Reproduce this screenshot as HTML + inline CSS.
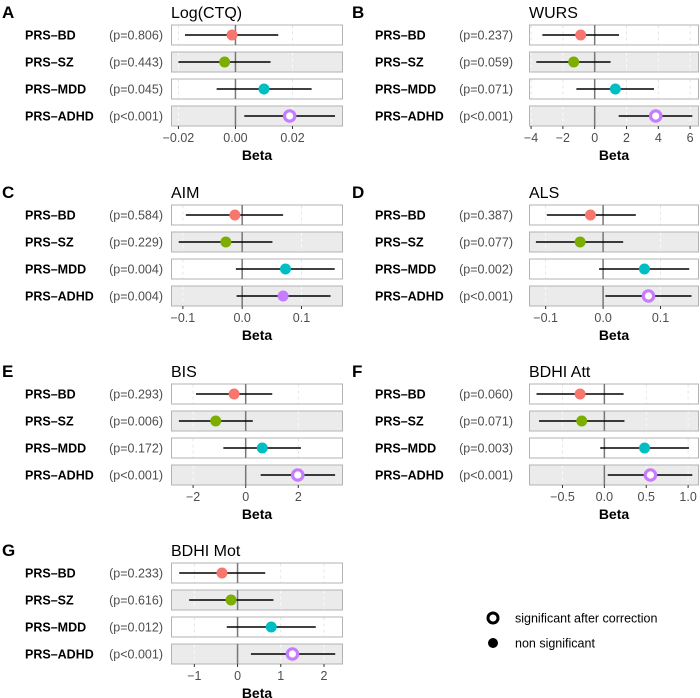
<!DOCTYPE html>
<html><head><meta charset="utf-8"><style>
body{margin:0;background:#fff}
svg{display:block;font-family:"Liberation Sans",Arial,sans-serif}
</style></head><body>
<svg id="fig" width="700" height="698" viewBox="0 0 700 698">
<g>
<circle cx="493" cy="618" r="5" fill="#fff" stroke="#000" stroke-width="3"/>
<text x="515" y="622.5" font-size="12.5" fill="#000">significant after correction</text>
<circle cx="493" cy="643" r="5" fill="#000"/>
<text x="515" y="647.5" font-size="12.5" fill="#000">non significant</text>
</g>
</svg>
<script>
const categories = ["PRS\u2013BD","PRS\u2013SZ","PRS\u2013MDD","PRS\u2013ADHD"];
const colors = ["#F8766D","#7CAE00","#00BFC4","#C77CFF"];
const panelLetters = ["A","B","C","D","E","F","G"];
const panelTitles = ["Log(CTQ)","WURS","AIM","ALS","BIS","BDHI Att","BDHI Mot"];
const pLabels = [
 ["(p=0.806)","(p=0.443)","(p=0.045)","(p<0.001)"],
 ["(p=0.237)","(p=0.059)","(p=0.071)","(p<0.001)"],
 ["(p=0.584)","(p=0.229)","(p=0.004)","(p=0.004)"],
 ["(p=0.387)","(p=0.077)","(p=0.002)","(p<0.001)"],
 ["(p=0.293)","(p=0.006)","(p=0.172)","(p<0.001)"],
 ["(p=0.060)","(p=0.071)","(p=0.003)","(p<0.001)"],
 ["(p=0.233)","(p=0.616)","(p=0.012)","(p<0.001)"]];
const betas = [
 [-0.0012,-0.0038,0.010,0.019],
 [-0.88,-1.32,1.30,3.84],
 [-0.0123,-0.0275,0.073,0.069],
 [-0.022,-0.040,0.072,0.079],
 [-0.44,-1.14,0.63,1.98],
 [-0.29,-0.27,0.48,0.55],
 [-0.36,-0.15,0.78,1.27]];
const lowers = [
 [-0.0177,-0.020,-0.0066,0.0031],
 [-3.29,-3.67,-1.15,1.51],
 [-0.095,-0.107,-0.0106,-0.0094],
 [-0.098,-0.117,-0.007,0.004],
 [-1.89,-2.54,-0.85,0.57],
 [-0.81,-0.78,-0.05,0.04],
 [-1.35,-1.12,-0.25,0.31]];
const uppers = [
 [0.015,0.0123,0.0267,0.0349],
 [1.53,1.0,3.73,6.14],
 [0.069,0.051,0.156,0.149],
 [0.057,0.035,0.150,0.154],
 [1.01,0.27,2.10,3.40],
 [0.23,0.24,1.01,1.05],
 [0.64,0.83,1.81,2.26]];
const significant = [
 [false,false,false,true],[false,false,false,true],[false,false,false,false],
 [false,false,false,true],[false,false,false,true],[false,false,false,true],[false,false,false,true]];
const domains = [[-0.0226,0.0377],[-4.13,6.56],[-0.120,0.170],[-0.129,0.167],[-2.84,3.70],[-0.90,1.13],[-1.54,2.44]];
const ticks = [[-0.02,0,0.02],[-4,-2,0,2,4,6],[-0.1,0,0.1],[-0.1,0,0.1],[-2,0,2],[-0.5,0,0.5,1.0],[-1,0,1,2]];
const tickLabels = [["\u22120.02","0.00","0.02"],["\u22124","\u22122","0","2","4","6"],["\u22120.1","0.0","0.1"],["\u22120.1","0.0","0.1"],["\u22122","0","2"],["\u22120.5","0.0","0.5","1.0"],["\u22121","0","1","2"]];

const NS="http://www.w3.org/2000/svg";
const svg=document.getElementById('fig');
function mk(tag,attrs,parent){const e=document.createElementNS(NS,tag);for(const k in attrs)e.setAttribute(k,attrs[k]);parent.appendChild(e);return e;}
const rowTops=[35,215,394,573];
panelLetters.forEach((L,pi)=>{
  const col=pi%2, row=Math.floor(pi/2);
  const ox=col*350, top=rowTops[row];
  const boxL=col?529:171, boxR=col?699:343;
  const [d0,d1]=domains[pi];
  const xs=v=>boxL+(v-d0)/(d1-d0)*(boxR-boxL);
  const g=mk('g',{},svg);
  
  
  const lt=mk('text',{x:ox+2,y:top-17,'font-size':17,'font-weight':'bold',fill:'#000'},g);
  lt.textContent=L;
  
  
  const tt=mk('text',{x:boxL,y:top-17,'font-size':16,fill:'#000'},g);
  tt.textContent=panelTitles[pi];
  
  
  categories.forEach((c,ri)=>{
    const cy=top+ri*27;
    const rg=mk('g',{},g);
    
    
    const bx=mk('rect',{x:boxL+0.5,y:cy-10,width:boxR-boxL-1,height:20,fill:ri%2?'#ebebeb':'#fff',stroke:'#b3b3b3','stroke-width':1},rg);
    
    
    ticks[pi].forEach(t=>{
      if(t===0)return;
      const gl=mk('line',{x1:xs(t),x2:xs(t),y1:cy-9.5,y2:cy+9.5,stroke:ri%2?'#fff':'#e0e0e0','stroke-dasharray':'3,3','stroke-width':0.8},rg);
      
      
    });
    const zl=mk('line',{x1:xs(0),x2:xs(0),y1:cy-10,y2:cy+10,stroke:'#777','stroke-width':1.5},rg);
    
    
    const lab=mk('text',{x:ox+25,y:cy+4.5,'font-size':12.5,'font-weight':'bold',fill:'#000'},rg);
    lab.textContent=c;
    
    
    const pl=mk('text',{x:ox+163,y:cy+4.5,'font-size':12.5,fill:'#4d4d4d','text-anchor':'end'},rg);
    pl.textContent=pLabels[pi][ri];
    
    
    const ci=mk('line',{x1:xs(lowers[pi][ri]),x2:xs(uppers[pi][ri]),y1:cy,y2:cy,stroke:'#000','stroke-width':1.5},rg);
    
    
    let pt;
    if(significant[pi][ri]) pt=mk('circle',{cx:xs(betas[pi][ri]),cy:cy,r:5.2,fill:'#fff',stroke:colors[ri],'stroke-width':3.2},rg);
    else pt=mk('circle',{cx:xs(betas[pi][ri]),cy:cy,r:5.5,fill:colors[ri]},rg);
    
    
  });
  const axTop=top+3*27+10;
  ticks[pi].forEach((t,ti)=>{
    const tk=mk('line',{x1:xs(t),x2:xs(t),y1:axTop,y2:axTop+3,stroke:'#333','stroke-width':1},g);
    
    
    const tl=mk('text',{x:xs(t),y:top+107,'font-size':12.5,fill:'#4d4d4d','text-anchor':'middle'},g);
    tl.textContent=tickLabels[pi][ti];
    
    
  });
  const bt=mk('text',{x:(boxL+boxR)/2,y:top+125,'font-size':14,'font-weight':'bold',fill:'#000','text-anchor':'middle'},g);
  bt.textContent='Beta';
  
  
});
</script>
</body></html>
